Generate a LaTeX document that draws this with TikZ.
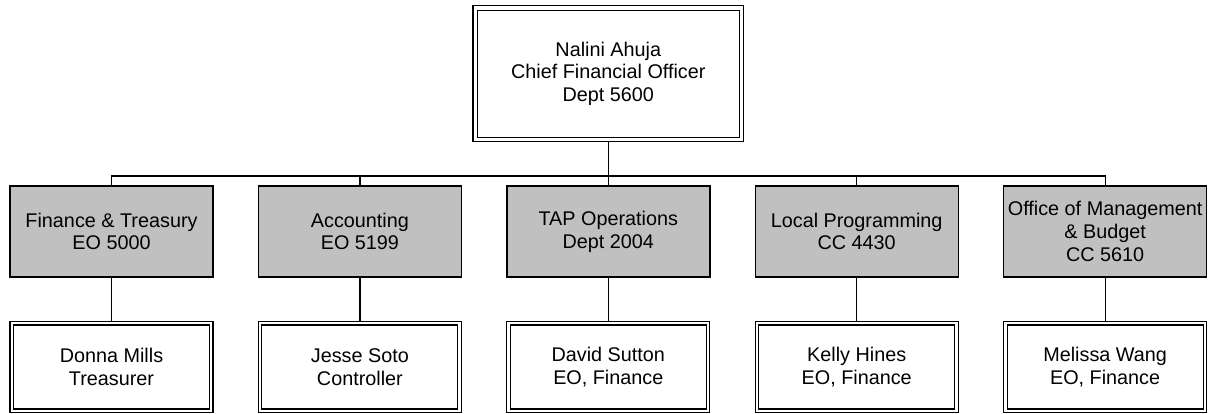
\documentclass[tikz,border=0pt]{standalone}
\usepackage{fontspec}
\setmainfont{Liberation Sans}
\usepackage{tikz}
\usetikzlibrary{positioning,backgrounds}
\definecolor{orgGray}{HTML}{C0C0C0}

\begin{document}
\begin{tikzpicture}[x=0.5pt,y=0.5pt,
    font=\fontsize{9.9}{11.4}\selectfont,
    unitbox/.style={draw,line width=0.7pt,fill=orgGray,
                  minimum width=101.5pt,minimum height=45.5pt,align=center,
                  inner sep=0pt},
    personbox/.style={draw,line width=0.55pt,double,double distance=1.2pt,fill=white,
                  minimum width=99.75pt,minimum height=43.75pt,align=center,
                  inner sep=0pt},
    link/.style={draw,line width=0.6pt}]
  \useasboundingbox (0,0) rectangle (1209,413);
  % top
  \node[personbox,double distance=1.7pt,minimum width=133.1pt,minimum height=65.75pt]
    (cfo) at (608.3,339.3) {Nalini Ahuja\\Chief Financial Officer\\Dept 5600};
  % departments
  \node[unitbox] (dept1) at (111.5,181.5)  {Finance \& Treasury\\EO 5000};
  \node[unitbox] (dept2) at (359.9,181.5)  {Accounting\\EO 5199};
  \node[unitbox] (dept3) at (608.3,181.5)  {TAP Operations\\Dept 2004};
  \node[unitbox] (dept4) at (856.7,181.5)  {Local Programming\\CC 4430};
  \node[unitbox] (dept5) at (1105.1,181.5) {Office of Management\\\& Budget\\CC 5610};
  % heads
  \node[personbox] (head1) at (111.5,46)  {Donna Mills\\Treasurer};
  \node[personbox] (head2) at (359.9,46)  {Jesse Soto\\Controller};
  \node[personbox] (head3) at (608.3,46)  {David Sutton\\EO, Finance};
  \node[personbox] (head4) at (856.7,46)  {Kelly Hines\\EO, Finance};
  \node[personbox] (head5) at (1105.1,46) {Melissa Wang\\EO, Finance};
  \coordinate (bus) at (0,237);
  \begin{scope}[on background layer]
    \draw[link] (cfo.south) -- (cfo.south |- bus);
    \draw[link] (dept1.north) |- (dept5.north |- bus) -- (dept5.north);
    \draw[link] (dept2.north) -- (dept2.north |- bus);
    \draw[link] (dept3.north) -- (dept3.north |- bus);
    \draw[link] (dept4.north) -- (dept4.north |- bus);
    \draw[link] (dept1.south) -- (head1.north);
    \draw[link] (dept2.south) -- (head2.north);
    \draw[link] (dept3.south) -- (head3.north);
    \draw[link] (dept4.south) -- (head4.north);
    \draw[link] (dept5.south) -- (head5.north);
  \end{scope}
\end{tikzpicture}
\end{document}
